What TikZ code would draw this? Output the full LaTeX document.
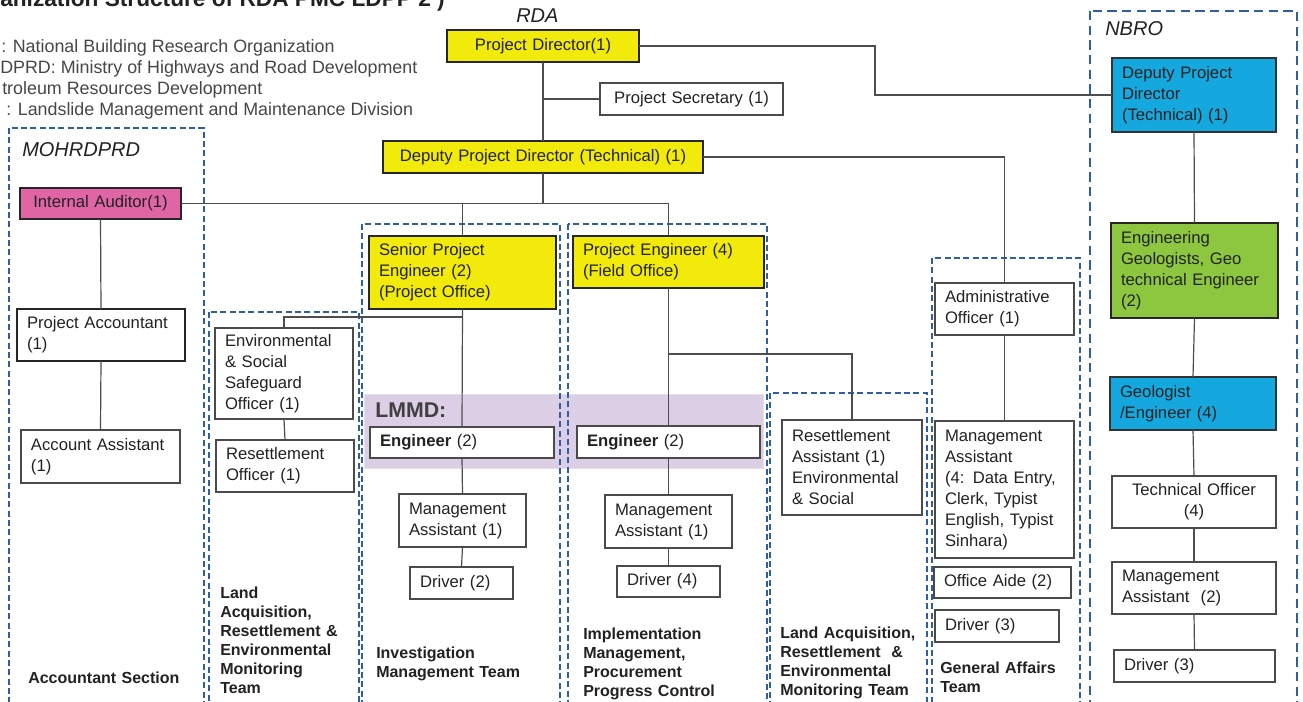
\documentclass[tikz,border=0pt]{standalone}
\usepackage{fontspec}
\setmainfont{Liberation Sans}
\usetikzlibrary{calc}
\definecolor{ylw}{HTML}{F2EA0B}
\definecolor{nblue}{HTML}{15A8DF}
\definecolor{grn}{HTML}{8DC63F}
\definecolor{pnk}{HTML}{E065A5}
\definecolor{lav}{HTML}{DCCFE5}
\definecolor{dblue}{HTML}{2E5FA6}
\definecolor{connc}{HTML}{4D4D4D}
\definecolor{bord}{HTML}{4A4A4A}
\definecolor{txt}{HTML}{222222}
\newcommand\boxfont{\fontsize{12.5}{15.75}\selectfont}
\newcommand\lblfont{\fontsize{12}{14.25}\selectfont\bfseries}
\newcommand\ob[7]{\node[#6, minimum width=#4*0.75pt, minimum height=#5*0.75pt, text width=#4*0.75pt-15pt] (#1) at (#2,#3) {#7};}
\begin{document}
\begin{tikzpicture}[x=0.75pt,y=-0.75pt,
  base/.style={anchor=north west, outer sep=0pt, inner ysep=1pt, inner xsep=7.5pt, font=\boxfont, text=txt, align=left},
  thin/.style={base, draw=bord, line width=0.8pt, fill=white},
  thick/.style={base, draw=black!85, line width=1.8pt},
  ctr/.style={align=center},
  cn/.style={draw=connc, line width=0.9pt},
  dbox/.style={draw=dblue, line width=1.1pt, dash pattern=on 4.5pt off 2.5pt},
  dboxl/.style={draw=dblue, line width=1.1pt, dash pattern=on 7pt off 4pt},
  lbl/.style={anchor=base west, inner sep=0pt, font=\lblfont, text=txt, align=left, text width=150pt},
  grp/.style={anchor=base west, inner sep=0pt, font=\fontsize{15}{18}\selectfont\itshape, text=txt},
  leg/.style={anchor=base west, inner sep=0pt, font=\fontsize{13.4}{15}\selectfont, text=black!72}
]
\useasboundingbox (0,0) rectangle (1303,702);
\clip (0,0) rectangle (1303,702);
\fill[white] (0,0) rectangle (1303,702);

% title and legend
\node[anchor=base west, inner sep=0pt, font=\fontsize{17}{20}\selectfont\bfseries, text=txt] (title) at (0,7) {anization Structure of RDA PMC LDPP 2 )};
\node[leg] (l1) at (1,53) {: National Building Research Organization};
\node[leg] (l2) at (0,74) {DPRD: Ministry of Highways and Road Development};
\node[leg] (l3) at (2,95) {troleum Resources Development};
\node[leg] (l4) at (6,116) {: Landslide Management and Maintenance Division};

% LMMD band
\fill[lav, draw=lav!70!white, line width=0.6pt] (364,394) rectangle (763,468);
\node[anchor=base west, inner sep=0pt, font=\fontsize{16}{18}\selectfont\bfseries, text=black!75] (lmmd) at (375,417) {LMMD:};

% group frames
\draw[dbox] (9,128) rectangle (204,712);
\draw[dbox] (209,312) rectangle (359,712);
\draw[dbox] (362,224) rectangle (560,712);
\draw[dbox] (568,224) rectangle (767,712);
\draw[dbox] (770,393) rectangle (927,712);
\draw[dbox] (932,258) rectangle (1080,712);
\draw[dboxl] (1090,11) rectangle (1297,712);

\node[grp] (rda) at (516,23) {RDA};
\node[grp] (nbro) at (1105,36) {NBRO};
\node[grp] (moh) at (22,157) {MOHRDPRD};

% boxes
\ob{pd}{447}{30}{192}{32}{thick, fill=ylw, ctr}{Project Director(1)}
\ob{ps}{600}{83}{183}{32}{thin, ctr}{Project Secretary (1)}
\ob{dpd}{383}{141}{320}{32}{thick, fill=ylw, ctr}{Deputy Project Director (Technical) (1)}
\ob{ndpd}{1112}{58}{164}{74}{thin, draw=black!80, fill=nblue}{Deputy Project\\Director\\(Technical) (1)}
\ob{geo}{1111}{223}{167}{95}{thick, fill=grn}{Engineering\\Geologists, Geo\\technical Engineer\\(2)}
\ob{ge}{1110}{377}{166}{53}{thin, draw=black!80, fill=nblue}{Geologist\\/Engineer (4)}
\ob{to}{1112}{476}{164}{52}{thin, ctr}{Technical Officer\\(4)}
\ob{ma2}{1112}{562}{164}{52}{thin}{Management\\Assistant~~(2)}
\ob{dr3}{1114}{650}{161}{32}{thin}{Driver (3)}
\ob{ia}{20}{188}{161}{31}{thick, fill=pnk, ctr}{Internal Auditor(1)}
\ob{pa}{17}{309}{168}{52}{thick, fill=white}{Project Accountant\\(1)}
\ob{aa}{21}{430}{159}{53}{thin}{Account~Assistant\\(1)}
\ob{env}{215}{328}{138}{91}{thin}{Environmental\\\& Social\\Safeguard\\Officer (1)}
\ob{ro}{216}{440}{138}{52}{thin}{Resettlement\\Officer (1)}
\ob{spe}{369}{236}{187}{73}{thick, fill=ylw}{Senior Project\\Engineer (2)\\(Project Office)}
\ob{pe}{573}{236}{191}{52}{thick, fill=ylw}{Project Engineer (4)\\(Field Office)}
\ob{engl}{370}{427}{184}{31}{thin}{\textbf{Engineer} (2)}
\ob{engr}{577}{426}{183}{32}{thin}{\textbf{Engineer} (2)}
\ob{mal}{399}{494}{127}{53}{thin}{Management\\Assistant (1)}
\ob{drv2}{410}{567}{103}{32}{thin}{Driver (2)}
\ob{mar}{605}{495}{127}{53}{thin}{Management\\Assistant (1)}
\ob{drv4}{617}{566}{103}{31}{thin}{Driver (4)}
\ob{ra}{782}{420}{140}{95}{thin}{Resettlement\\Assistant (1)\\Environmental\\\& Social}
\ob{ao}{935}{283}{139}{52}{thin}{Administrative\\Officer (1)}
\ob{ma4}{935}{421}{139}{137}{thin}{Management\\Assistant\\(4: Data Entry,\\Clerk, Typist\\English, Typist\\Sinhara)}
\ob{oa}{934}{567}{137}{31}{thin}{Office Aide (2)}
\ob{drg}{935}{610}{124}{32}{thin}{Driver (3)}

% team labels
\node[lbl] (lacc) at (28,683) {Accountant Section};
\node[lbl] (lla1) at (220,598) {Land\\Acquisition,\\Resettlement \&\\Environmental\\Monitoring\\Team};
\node[lbl] (linv) at (376,658) {Investigation\\Management Team};
\node[lbl] (limp) at (583,639) {Implementation\\Management,\\Procurement\\Progress Control};
\node[lbl] (lla2) at (780,638) {Land Acquisition,\\Resettlement~~\&\\Environmental\\Monitoring Team};
\node[lbl] (lga) at (940,673) {General Affairs\\Team};

% connectors
\coordinate (j1) at (875,46);
\coordinate (j2) at (462.5,317);
\coordinate (j3) at (668.5,354);
\draw[cn] (pd.south) -- (dpd.north);
\draw[cn] (pd.south) |- (ps.west);
\draw[cn] (pd.east) -- (j1) |- (ndpd.west);
\draw[cn] (dpd.east) -| (ao.north);
\draw[cn] (dpd.south) -- (dpd.south |- ia.east);
\draw[cn] (ia.east) -| (pe.north);
\draw[cn] (spe.north) -- (spe.north |- ia.east);
\draw[cn] (ia.south) -- (pa.north);
\draw[cn] (pa.south) -- (aa.north);
\draw[cn] (spe.south) -- (engl.north);
\draw[cn] (j2) -| (env.north);
\draw[cn] (engl.south) -- (mal.north);
\draw[cn] (mal.south) -- (drv2.north);
\draw[cn] (env.south) -- (ro.north);
\draw[cn] (pe.south) -- (engr.north);
\draw[cn] (j3) -| (ra.north);
\draw[cn] (engr.south) -- (mar.north);
\draw[cn] (mar.south) -- (drv4.north);
\draw[cn] (ao.south) -- (ma4.north);
\draw[cn] (ndpd.south) -- (geo.north);
\draw[cn] (geo.south) -- (ge.north);
\draw[cn] (ge.south) -- (to.north);
\draw[cn] (to.south) -- (ma2.north);
\draw[cn] (ma2.south) -- (dr3.north);
\end{tikzpicture}
\end{document}
